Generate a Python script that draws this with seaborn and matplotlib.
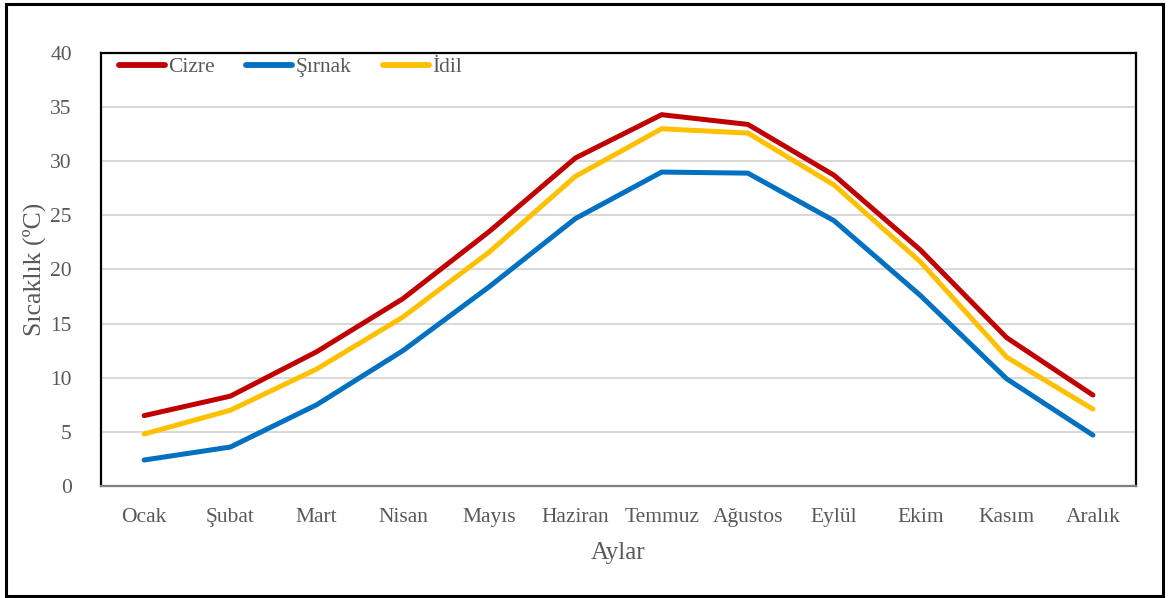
import matplotlib.pyplot as plt
import seaborn as sns
import pandas as pd
from matplotlib.patches import Rectangle

months = ['Ocak', 'Şubat', 'Mart', 'Nisan', 'Mayıs', 'Haziran', 'Temmuz',
          'Ağustos', 'Eylül', 'Ekim', 'Kasım', 'Aralık']
cizre = [6.5, 8.3, 12.4, 17.3, 23.5, 30.3, 34.3, 33.4, 28.7, 21.8, 13.7, 8.4]
sirnak = [2.4, 3.6, 7.5, 12.5, 18.4, 24.7, 29.0, 28.9, 24.5, 17.6, 9.9, 4.7]
idil = [4.8, 7.0, 10.8, 15.6, 21.6, 28.6, 33.0, 32.6, 27.8, 20.7, 11.9, 7.1]

stations = ['Cizre', 'Şırnak', 'İdil']
colors = ['#C00000', '#0070C0', '#FFC000']

df = pd.DataFrame({
    'Ay': months * 3,
    'Sıcaklık': cizre + sirnak + idil,
    'İstasyon': [s for s in stations for _ in months],
})

sns.set_style('white')
plt.rcParams['font.family'] = ['Liberation Serif', 'DejaVu Serif']
txt = '#595959'

fig = plt.figure(figsize=(11.69, 5.98), dpi=100)
ax = fig.add_axes([0.0864, 0.1873, 0.8854, 0.7241])

sns.lineplot(data=df, x='Ay', y='Sıcaklık', hue='İstasyon', palette=colors,
             linewidth=3.6, sort=False, ax=ax, zorder=3)
for line in ax.get_lines():
    line.set_solid_capstyle('round')
    line.set_solid_joinstyle('miter')

ax.set_xlim(-0.5, 11.5)
ax.set_ylim(0, 40)
ax.set_yticks(range(0, 41, 5))
ax.yaxis.grid(True, color='#d9d9d9', linewidth=1.5)
ax.set_axisbelow(True)
ax.tick_params(axis='both', colors=txt, labelsize=15.5, length=0)
ax.tick_params(axis='x', pad=15.5)
ax.tick_params(axis='y', pad=21)
ax.set_xlabel('Aylar', fontsize=18, color=txt, labelpad=11)
ax.set_ylabel('Sıcaklık (ºC)', fontsize=18.5, color=txt, labelpad=3)

for side in ['left', 'top', 'right']:
    ax.spines[side].set_color('black')
    ax.spines[side].set_linewidth(1.6)
ax.spines['bottom'].set_color('#808080')
ax.spines['bottom'].set_linewidth(1.6)

leg = ax.legend(loc='upper left', bbox_to_anchor=(0.017, 0.99), ncol=3, frameon=False,
                fontsize=15.5, handlelength=2.15, handletextpad=0.15, columnspacing=1.45,
                borderaxespad=0, borderpad=0)
for t in leg.get_texts():
    t.set_color(txt)
for h in leg.get_lines():
    h.set_linewidth(4.2)
    h.set_solid_capstyle('round')

fig.patches.append(Rectangle((0.005, 0.004), 0.99, 0.99, transform=fig.transFigure,
                             fill=False, edgecolor='black', linewidth=2.2))

fig.savefig('out.png', dpi=100)
